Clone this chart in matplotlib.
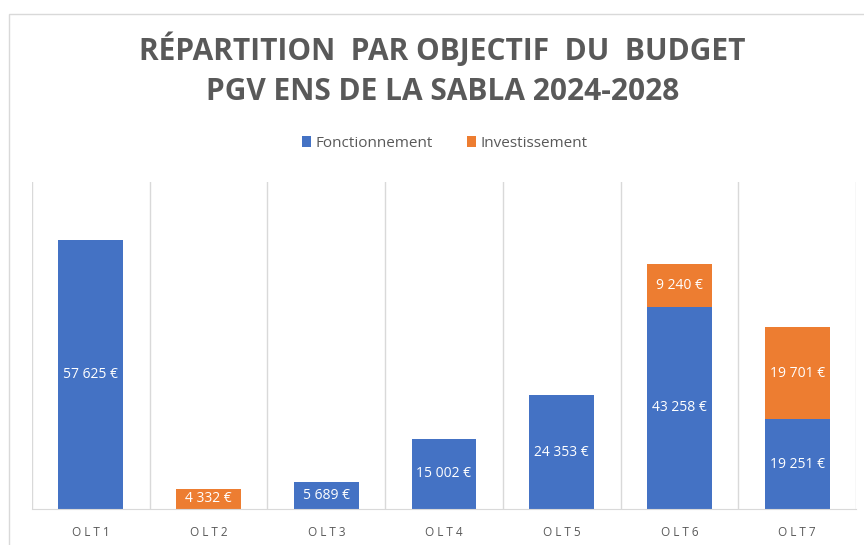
import matplotlib.pyplot as plt
from matplotlib.patches import Rectangle
import numpy as np

categories = ["OLT1", "OLT2", "OLT3", "OLT4", "OLT5", "OLT6", "OLT7"]
fonctionnement = [57625, 0, 5689, 15002, 24353, 43258, 19251]
investissement = [0, 4332, 0, 0, 0, 9240, 19701]

blue = "#4472C4"
orange = "#ED7D31"
grey = "#595959"

plt.rcParams['font.family'] = ["Open Sans", "DejaVu Sans"]

fig = plt.figure(figsize=(8.64, 5.45), dpi=100)
ax = fig.add_axes([32/864, 36/545, 824/864, 327/545])

x = np.arange(len(categories))
w = 0.55
b1 = ax.bar(x, fonctionnement, w, color=blue, label="Fonctionnement")
b2 = ax.bar(x, investissement, w, bottom=fonctionnement, color=orange, label="Investissement")


def fmt(v):
    return f"{v:,}".replace(",", " ") + " €"


for bars, vals in ((b1, fonctionnement), (b2, investissement)):
    for r, v in zip(bars, vals):
        if v == 0:
            continue
        ax.text(r.get_x() + r.get_width() / 2, r.get_y() + r.get_height() / 2, fmt(v),
                ha="center", va="center", color="white", fontsize=10)

ax.set_xlim(-0.5, len(categories) - 0.5)
ax.set_ylim(0, 70000)
ax.set_yticks([])
ax.set_xticks(x)
ax.set_xticklabels([" ".join(c) for c in categories], color=grey, fontsize=8.5)
ax.tick_params(axis="x", length=0, pad=12)
for s in ("top", "left", "right"):
    ax.spines[s].set_visible(False)
ax.spines["bottom"].set_color("#D9D9D9")
# separators between categories
for b in np.arange(-0.5, len(categories), 1):
    ax.axvline(b, color="#D9D9D9", lw=1, zorder=0)

# chart area border (runs off the right and bottom edges)
fig.patches.append(Rectangle((9/864, -0.1), 1.2, (545 - 14)/545 + 0.1, transform=fig.transFigure,
                             fill=False, edgecolor="#D9D9D9", lw=1))

fig.text(0.512, 1 - 50/545, "RÉPARTITION  PAR OBJECTIF  DU  BUDGET", ha="center", va="center",
         fontsize=21.5, fontweight="bold", color=grey)
fig.text(0.512, 1 - 92/545, "PGV ENS DE LA SABLA 2024-2028", ha="center", va="center",
         fontsize=21.5, fontweight="bold", color=grey)

fig.legend(handles=[b1, b2], loc="center", bbox_to_anchor=(0.515, 1 - 143/545), ncol=2,
           frameon=False, fontsize=11, handlelength=0.6, handleheight=0.7, handletextpad=0.3,
           columnspacing=2.2, labelcolor=grey)

fig.savefig("out.png", dpi=100)
